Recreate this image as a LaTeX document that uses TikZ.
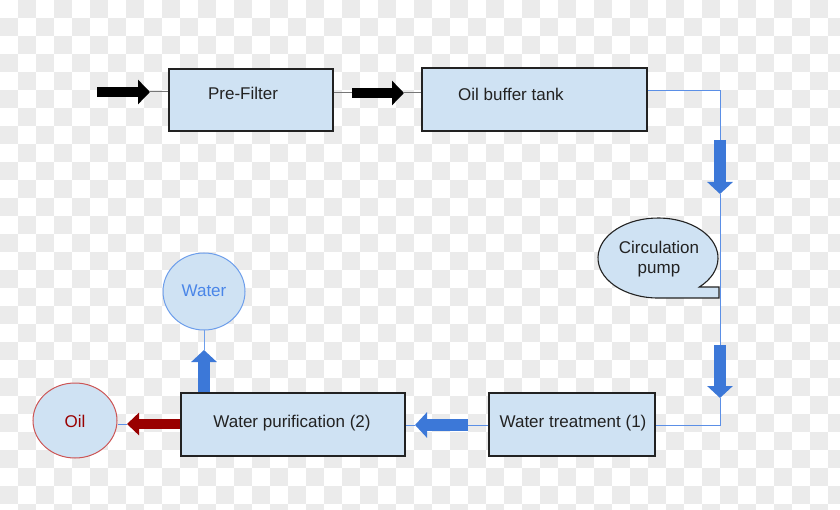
\documentclass[tikz,border=0pt]{standalone}
\usepackage{fontspec}
\setmainfont{Liberation Sans}
\usetikzlibrary{arrows.meta,shapes.geometric}
\definecolor{boxfill}{HTML}{CFE2F3}
\definecolor{boxline}{HTML}{222222}
\definecolor{txt}{HTML}{222222}
\definecolor{arrowblue}{HTML}{3C78D8}
\definecolor{lineblue}{HTML}{5B8FE6}
\definecolor{waterline}{HTML}{6D9EEB}
\definecolor{watertext}{HTML}{4A86E8}
\definecolor{oilline}{HTML}{CC5555}
\definecolor{oilred}{HTML}{990000}
\definecolor{checker}{HTML}{EBEBEB}
\definecolor{grayline}{HTML}{777777}
\begin{document}
\begin{tikzpicture}[x=1pt,y=-1pt,
  box/.style={draw=boxline, line width=1.1pt, fill=boxfill, rectangle, inner sep=0pt},
  lbl/.style={font=\fontsize{17}{20.5}\selectfont, text=txt, align=center, inner sep=0pt},
  gline/.style={draw=grayline, line width=1pt},
  bline/.style={draw=lineblue, line width=1pt},
  blackarr/.style={draw=black, line width=10pt, -{Triangle[length=12pt,width=24pt]}},
  bluearr/.style={draw=arrowblue, line width=12pt, -{Triangle[length=12pt,width=25pt]}},
  redarr/.style={draw=oilred, line width=10pt, -{Triangle[length=12pt,width=22pt]}}]
\useasboundingbox (0,0) rectangle (840,510);
% checkerboard background
\begin{scope}
\clip (0,0) rectangle (840,510);
\fill[white] (0,0) rectangle (840,510);
\foreach \i in {0,2,...,46} \foreach \j in {1,3,...,29} \fill[checker] (\i*18,\j*18) rectangle ++(18,18);
\foreach \i in {1,3,...,47} \foreach \j in {0,2,...,28} \fill[checker] (\i*18,\j*18) rectangle ++(18,18);
\end{scope}

% boxes
\node[box, minimum width=164pt, minimum height=62pt] (pf) at (251,100) {};
\node[box, minimum width=225pt, minimum height=63pt] (obt) at (534.5,99.5) {};
\node[box, minimum width=166pt, minimum height=63pt] (wt) at (572,424.5) {};
\node[box, minimum width=224pt, minimum height=63pt] (wp) at (293,424.5) {};
\node[ellipse, draw=waterline, line width=1pt, fill=boxfill, minimum width=82pt, minimum height=77pt, inner sep=0pt] (water) at (204,291.5) {};
\node[ellipse, draw=oilline, line width=1pt, fill=boxfill, minimum width=84pt, minimum height=75pt, inner sep=0pt] (oil) at (75,420.5) {};
% circulation pump speech bubble
\coordinate (pumpc) at (658,258);
\filldraw[fill=boxfill, draw=boxline, line width=1.1pt]
  (pumpc) ++(46.5:60 and 40) arc[start angle=46.5, end angle=-270, x radius=60, y radius=40]
  -- (719,298) -- (719,287) -- cycle;

% labels
\node[lbl, anchor=base] (tpf) at (243,100) {Pre-Filter};
\node[lbl, anchor=base] (tobt) at (511,101) {Oil buffer tank};
\node[lbl] (tpump) at (659,259) {Circulation\\pump};
\node[lbl, anchor=base] (twt) at (573,427) {Water treatment (1)};
\node[lbl, anchor=base] (twp) at (292,427) {Water purification (2)};
\node[lbl, anchor=base, text=watertext] (twater) at (204,297) {Water};
\node[lbl, anchor=base, text=oilred] (toil) at (75,427) {Oil};

% coordinates on connectors
\coordinate (in) at (97,92);
\coordinate (a1) at (150,92);
\coordinate (b0) at (352,93);
\coordinate (b1) at (404,93);
\coordinate (c0) at (720,91);
\coordinate (c1) at (720,140);
\coordinate (c2) at (720,194);
\coordinate (c3) at (720,345);
\coordinate (c4) at (720,398);
\coordinate (c5) at (720,425);
\coordinate (d0) at (468,425);
\coordinate (d1) at (415,425);
\coordinate (e1) at (204,350);
\coordinate (f1) at (127,424);

% input to pre-filter
\draw[blackarr] (in) -- (a1);
\draw[gline] (a1) -- (a1 -| pf.west);
% pre-filter to buffer tank
\draw[gline] (b0 -| pf.east) -- (b0);
\draw[blackarr] (b0) -- (b1);
\draw[gline] (b1) -- (b1 -| obt.west);
% buffer tank down to water treatment
\draw[bline] (c0 -| obt.east) -- (c0) -- (c1);
\draw[bline] (c2) -- (c3);
\draw[bline] (c4) -- (c5) -- (c5 -| wt.east);
\draw[bluearr] (c1) -- (c2);
\draw[bluearr] (c3) -- (c4);
% water treatment to purification
\draw[bline] (d0 -| wt.west) -- (d0);
\draw[bline] (d1) -- (d1 -| wp.east);
\draw[bluearr] (d0) -- (d1);
% purification to water
\draw[draw=waterline, line width=1pt] (e1) -- (water.south);
\draw[bluearr] (e1 |- wp.north) -- (e1);
% purification to oil
\draw[bline] (f1) -- (f1 -| oil.east);
\draw[redarr] (f1 -| wp.west) -- (f1);
\end{tikzpicture}
\end{document}
